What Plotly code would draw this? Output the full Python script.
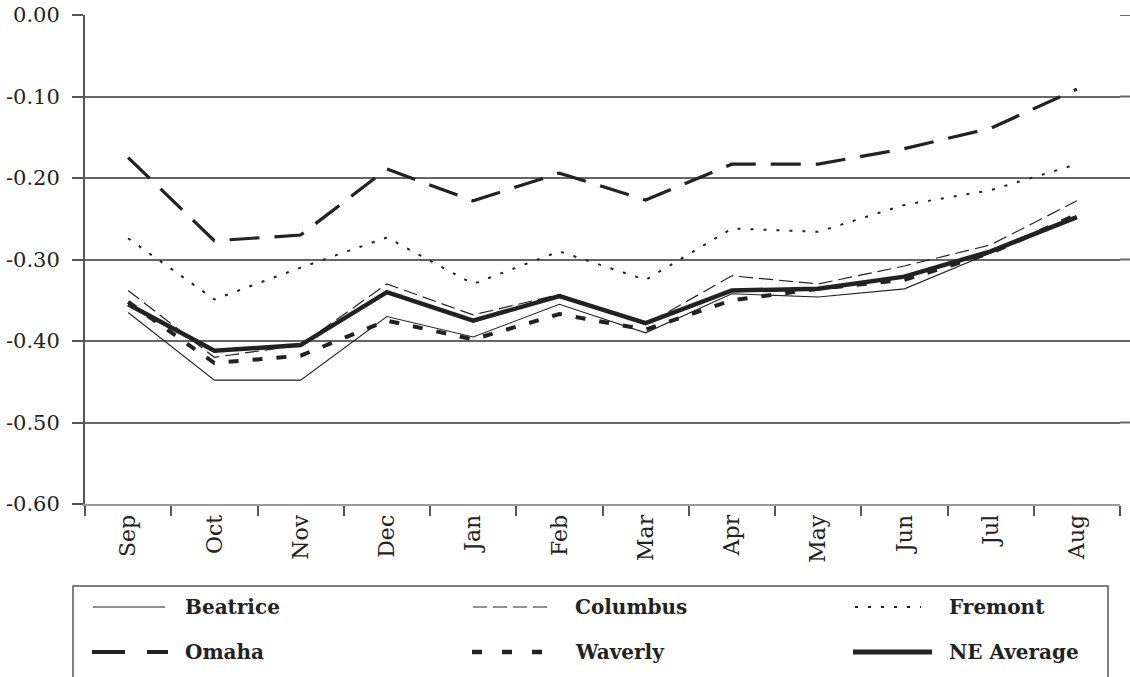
import plotly.graph_objects as go

months = ["Sep", "Oct", "Nov", "Dec", "Jan", "Feb", "Mar", "Apr", "May", "Jun", "Jul", "Aug"]

beatrice = [-0.365, -0.448, -0.448, -0.370, -0.395, -0.355, -0.390, -0.342, -0.346, -0.336, -0.292, -0.248]
columbus = [-0.338, -0.420, -0.405, -0.330, -0.368, -0.343, -0.380, -0.320, -0.330, -0.308, -0.282, -0.228]
fremont = [-0.274, -0.349, -0.310, -0.273, -0.330, -0.290, -0.325, -0.262, -0.266, -0.233, -0.215, -0.183]
omaha = [-0.175, -0.277, -0.270, -0.189, -0.228, -0.194, -0.227, -0.183, -0.183, -0.164, -0.139, -0.091]
waverly = [-0.352, -0.427, -0.418, -0.375, -0.398, -0.367, -0.386, -0.350, -0.336, -0.325, -0.292, -0.245]
ne_average = [-0.355, -0.412, -0.405, -0.340, -0.375, -0.345, -0.378, -0.338, -0.336, -0.321, -0.290, -0.248]

y_tickvals = [0.0, -0.1, -0.2, -0.3, -0.4, -0.5, -0.6]
y_ticktext = ["0.00", "-0.10", "-0.20", "-0.30", "-0.40", "-0.50", "-0.60"]

INK = "#222222"
SERIF = "DejaVu Serif"
GRID = "#666666"

series = [
    ("Beatrice", beatrice, dict(width=1.1, dash="solid")),
    ("Columbus", columbus, dict(width=1.2, dash="14px,6px")),
    ("Fremont", fremont, dict(width=2, dash="3px,10px")),
    ("Omaha", omaha, dict(width=3.2, dash="30px,15px")),
    ("Waverly", waverly, dict(width=4, dash="10px,14px")),
    ("NE Average", ne_average, dict(width=4.5, dash="solid")),
]

fig = go.Figure()
for name, vals, style in series:
    fig.add_trace(go.Scatter(
        x=months, y=vals, name=name, mode="lines",
        line=dict(color=INK, **style), showlegend=False,
    ))

# geometry helpers (pixels -> paper)
L, R, T, B = 85, 10, 15, 173
W, H = 1130, 677
PW, PH = W - L - R, H - T - B
def px(x):
    return (x - L) / PW
def py(y):
    return (H - B - y) / PH

shapes = []
annotations = []
# gridlines continue to the right edge of the page
for v in y_tickvals[:-1]:
    shapes.append(dict(type="line", xref="paper", yref="y", x0=1, x1=px(W + 5),
                       y0=v, y1=v, line=dict(color=GRID, width=2)))
# legend box
shapes.append(dict(type="rect", xref="paper", yref="paper",
                   x0=px(73), x1=px(1108), y0=py(700), y1=py(586),
                   line=dict(color="#555555", width=1.5), fillcolor="rgba(0,0,0,0)"))

legend_items = [
    ("Beatrice", (93, 165), 607, 183, series[0][2]),
    ("Columbus", (473, 547), 607, 573, series[1][2]),
    ("Fremont", (855, 921), 607, 947, series[2][2]),
    ("Omaha", (92, 168), 652, 183, dict(width=4, dash="33px,22px")),
    ("Waverly", (472, 542), 652, 573, dict(width=4.5, dash="10px,20px")),
    ("NE Average", (853, 932), 652, 947, dict(width=5, dash="solid")),
]
for name, (x0, x1), yy, tx, st in legend_items:
    shapes.append(dict(type="line", xref="paper", yref="paper",
                       x0=px(x0), x1=px(x1), y0=py(yy), y1=py(yy),
                       line=dict(color=INK, width=st["width"], dash=st["dash"])))
    annotations.append(dict(xref="paper", yref="paper", x=px(tx), y=py(yy),
                            xanchor="left", yanchor="middle", showarrow=False,
                            text="<b>" + name + "</b>",
                            font=dict(family=SERIF, size=20, color=INK)))

fig.update_layout(
    width=W, height=H,
    margin=dict(l=L, r=R, t=T, b=B, autoexpand=False),
    paper_bgcolor="white", plot_bgcolor="white",
    shapes=shapes, annotations=annotations,
    showlegend=False,
    xaxis=dict(
        type="category", range=[-0.5, 11.5], automargin=False,
        showgrid=False, zeroline=False,
        showline=True, linecolor="#9a9a9a", linewidth=2,
        ticks="outside", tickson="boundaries", ticklen=10, tickcolor="#555555", tickwidth=1.5,
        tickangle=-90,
        tickfont=dict(family=SERIF, size=22, color=INK),
    ),
    yaxis=dict(
        range=[-0.6, 0.0], automargin=False,
        tickvals=y_tickvals, ticktext=y_ticktext,
        showgrid=True, gridcolor=GRID, gridwidth=2,
        zeroline=False,
        showline=True, linecolor="#555555", linewidth=2,
        ticks="outside", ticklen=11, tickcolor="#555555", tickwidth=2,
        ticklabelstandoff=8,
        tickfont=dict(family=SERIF, size=21, color=INK),
    ),
)

fig.write_html("out.html", config={"displayModeBar": False},
               post_script="document.body.style.margin='0';")
